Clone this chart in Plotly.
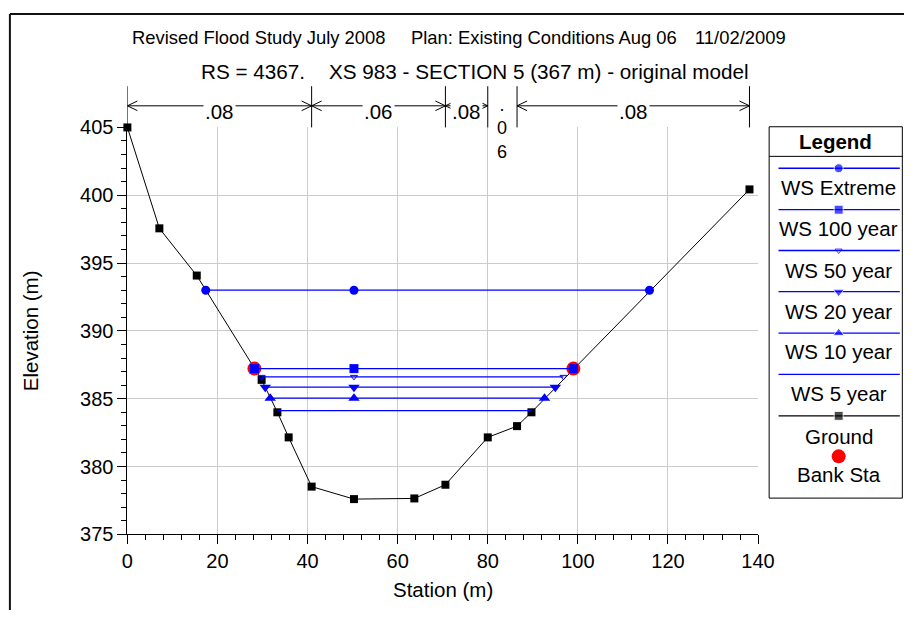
import plotly.graph_objects as go

# ---- cross-section data -------------------------------------------------
ground_sta = [0.0, 7.1, 15.4, 29.8, 33.3, 35.8, 40.9, 50.3, 63.7, 70.6, 80.0, 86.5, 89.7, 138.1]
ground_elev = [405.0, 397.56, 394.08, 386.39, 384.0, 382.15, 378.52, 377.6, 377.65, 378.66,
               382.15, 382.98, 384.0, 400.43]

bank_sta = [28.2, 99.0]
bank_elev = [387.22, 387.22]

ws_names = ["WS Extreme", "WS 100 year", "WS 50 year", "WS 20 year", "WS 10 year", "WS 5 year"]
ws_elev = [393.0, 387.22, 386.61, 385.85, 385.04, 384.12]
ws_left = [17.4, 28.2, 29.8, 30.6, 31.7, 33.3]
ws_right = [115.9, 99.0, 96.8, 95.0, 92.6, 89.65]
ws_mid_sta = 50.3

# Manning's n regions along the section
n_sta = [0.0, 40.9, 70.6, 80.0, 86.5, 138.1]
n_vals = [".08", ".06", ".08", ".06", ".08"]

x_ticks = [0, 20, 40, 60, 80, 100, 120, 140]
y_ticks = [375, 380, 385, 390, 395, 400, 405]

title_1 = ["Revised Flood Study July 2008", "Plan: Existing Conditions Aug 06", "11/02/2009"]
title_2 = ["RS = 4367.", "XS 983 - SECTION 5 (367 m) - original model"]

# ---- styling --------------------------------------------------------------
W, H = 921, 621
X0, X1, Y0, Y1 = 124.5, 771.3, 120.7, 542.6   # plot frame in page pixels
FONT = "Liberation Sans, Arial, sans-serif"
BLUE, BLACK, RED = "#0000ff", "#000000", "#ff0000"

ws_style = [
    dict(symbol="circle", size=9),
    dict(symbol="square", size=9),
    dict(symbol="triangle-down-open", size=6),
    dict(symbol="triangle-down", size=10),
    dict(symbol="triangle-up", size=10),
    None,
]

fig = go.Figure()

# ground profile
fig.add_trace(go.Scatter(x=ground_sta, y=ground_elev, mode="lines+markers",
                         line=dict(color=BLACK, width=1),
                         marker=dict(symbol="square", size=8, color=BLACK),
                         cliponaxis=False, name="Ground", showlegend=False))
# bank stations
fig.add_trace(go.Scatter(x=bank_sta, y=bank_elev, mode="markers",
                         marker=dict(symbol="circle", size=14, color=RED),
                         cliponaxis=False, name="Bank Sta", showlegend=False))
# water surfaces, smallest event first so larger ones sit on top
for i in reversed(range(len(ws_names))):
    st = ws_style[i]
    if st is None:
        fig.add_trace(go.Scatter(x=[ws_left[i], ws_right[i]], y=[ws_elev[i]] * 2, mode="lines",
                                 line=dict(color=BLUE, width=1.3), name=ws_names[i],
                                 showlegend=False))
    else:
        mk = dict(symbol=st["symbol"], size=st["size"], color=BLUE)
        if st["symbol"].endswith("open"):
            mk["line"] = dict(color=BLUE, width=1)
        fig.add_trace(go.Scatter(x=[ws_left[i], ws_mid_sta, ws_right[i]], y=[ws_elev[i]] * 3,
                                 mode="lines+markers", line=dict(color=BLUE, width=1.3),
                                 marker=mk, cliponaxis=False, name=ws_names[i],
                                 showlegend=False))

# ---- legend panel (drawn on a full-page pixel axis) ------------------------
LX0, LX1, LY0, LY1 = 782.7, 919.3, 120.0, 505.0
LS0, LS1, LMID = 792.3, 916.7, 854.0
leg_line_y = [163.0, 206.0, 248.3, 291.0, 334.0, 376.7, 419.7]
leg_text_y = [182.7, 226.0, 269.0, 312.0, 353.0, 397.0, 440.7]
leg_names = ws_names + ["Ground"]
leg_styles = ws_style + [dict(symbol="square", size=9)]
leg_colors = [BLUE] * 6 + [BLACK]

annotations = []
shapes = []

for name, ly, ty, st, col in zip(leg_names, leg_line_y, leg_text_y, leg_styles, leg_colors):
    if st is None:
        fig.add_trace(go.Scatter(x=[LS0, LS1], y=[ly, ly], mode="lines",
                                 line=dict(color=col, width=1.3), xaxis="x2", yaxis="y2",
                                 showlegend=False, hoverinfo="skip"))
    else:
        mk = dict(symbol=st["symbol"], size=[0, st["size"], 0], color=col)
        if st["symbol"].endswith("open"):
            mk["line"] = dict(color=col, width=1)
        fig.add_trace(go.Scatter(x=[LS0, LMID, LS1], y=[ly, ly, ly], mode="lines+markers",
                                 line=dict(color=col, width=1.3), marker=mk,
                                 xaxis="x2", yaxis="y2", showlegend=False, hoverinfo="skip"))
    annotations.append(dict(text=name, x=LMID, y=ty, xref="x2", yref="y2",
                            showarrow=False, xanchor="center", yanchor="middle",
                            font=dict(family=FONT, size=20.5, color=BLACK)))

fig.add_trace(go.Scatter(x=[LMID], y=[461.7], mode="markers",
                         marker=dict(symbol="circle", size=14, color=RED),
                         xaxis="x2", yaxis="y2", showlegend=False, hoverinfo="skip"))
annotations.append(dict(text="Bank Sta", x=LMID, y=481.0, xref="x2", yref="y2",
                        showarrow=False, xanchor="center", yanchor="middle",
                        font=dict(family=FONT, size=20.5, color=BLACK)))
annotations.append(dict(text="<b>Legend</b>", x=(LX0 + LX1) / 2, y=135.0, xref="x2", yref="y2",
                        showarrow=False, xanchor="center", yanchor="middle",
                        font=dict(family=FONT, size=20.5, color=BLACK)))
shapes.append(dict(type="rect", xref="x2", yref="y2", x0=LX0, x1=LX1, y0=LY0, y1=LY1,
                   line=dict(color=BLACK, width=1), layer="above"))
shapes.append(dict(type="line", xref="x2", yref="y2", x0=LX0, x1=LX1, y0=150.7, y1=150.7,
                   line=dict(color=BLACK, width=1), layer="above"))

# ---- page frame (left and top edges fall inside the page) ------------------
shapes.append(dict(type="line", xref="x2", yref="y2", x0=4, x1=4, y0=3, y1=H,
                   line=dict(color="#111111", width=2), layer="above"))
shapes.append(dict(type="line", xref="x2", yref="y2", x0=4, x1=W, y0=3, y1=3,
                   line=dict(color="#111111", width=2), layer="above"))

# ---- titles -----------------------------------------------------------------
t1f = dict(family=FONT, size=18.4, color=BLACK)
annotations.append(dict(text=title_1[0], x=126.7, y=27, xref="x2", yref="y2", showarrow=False,
                        xanchor="left", yanchor="middle", font=t1f))
annotations.append(dict(text=title_1[1], x=690, y=27, xref="x2", yref="y2", showarrow=False,
                        xanchor="right", yanchor="middle", font=t1f))
annotations.append(dict(text=title_1[2], x=802, y=27, xref="x2", yref="y2", showarrow=False,
                        xanchor="right", yanchor="middle", font=t1f))
t2f = dict(family=FONT, size=20.7, color=BLACK)
annotations.append(dict(text=title_2[0], x=198, y=63, xref="x2", yref="y2", showarrow=False,
                        xanchor="left", yanchor="middle", font=t2f))
annotations.append(dict(text=title_2[1], x=329, y=63, xref="x2", yref="y2", showarrow=False,
                        xanchor="left", yanchor="middle", font=t2f))

# axis titles
annotations.append(dict(text="Station (m)", x=(X0 + X1) / 2, y=600, xref="x2", yref="y2",
                        showarrow=False, xanchor="center", yanchor="middle",
                        font=dict(family=FONT, size=20.5, color=BLACK)))
annotations.append(dict(text="Elevation (m)", x=26, y=(Y0 + Y1) / 2, xref="x2", yref="y2",
                        showarrow=False, xanchor="center", yanchor="middle", textangle=-90,
                        font=dict(family=FONT, size=20.5, color=BLACK)))

# ---- Manning's n bands above the plot ---------------------------------------
N_TOP, N_ARROW, N_TEXT = 78.0, 98.3, 104.5
for s in n_sta:
    shapes.append(dict(type="line", xref="x", yref="y2", x0=s, x1=s, y0=N_TOP, y1=Y0,
                       line=dict(color=BLACK, width=1), layer="above"))
nf = dict(family=FONT, size=20.5, color=BLACK)
for a, b, v in zip(n_sta[:-1], n_sta[1:], n_vals):
    mid = (a + b) / 2
    if b - a >= 8:
        shapes.append(dict(type="line", xref="x", yref="y2", x0=a, x1=b, y0=N_ARROW, y1=N_ARROW,
                           line=dict(color=BLACK, width=1), layer="above"))
        shapes.append(dict(type="path", xref="x", yref="y2", xsizemode="pixel", xanchor=a,
                           path=f"M 10,{N_ARROW - 5} L 0,{N_ARROW} L 10,{N_ARROW + 5}",
                           line=dict(color=BLACK, width=1), layer="above"))
        shapes.append(dict(type="path", xref="x", yref="y2", xsizemode="pixel", xanchor=b,
                           path=f"M -10,{N_ARROW - 5} L 0,{N_ARROW} L -10,{N_ARROW + 5}",
                           line=dict(color=BLACK, width=1), layer="above"))
        annotations.append(dict(text=v, x=mid, y=N_TEXT, xref="x", yref="y2", showarrow=False,
                                xanchor="center", yanchor="middle", bgcolor="white",
                                borderpad=1, font=nf))
    else:
        # too narrow: write the value one character per line
        annotations.append(dict(text="<br>".join(v), x=mid, y=122, xref="x", yref="y2",
                                showarrow=False, xanchor="center", yanchor="middle",
                                font=dict(family=FONT, size=18, color=BLACK)))

axis_common = dict(showline=True, linecolor=BLACK, linewidth=1, ticks="outside", ticklen=9,
                   tickcolor=BLACK, tickwidth=1, showgrid=True, gridcolor="#cccccc", gridwidth=1,
                   zeroline=False, tickfont=dict(family=FONT, size=20, color=BLACK))

fig.update_layout(
    width=W, height=H, margin=dict(l=0, r=0, t=0, b=0), autosize=False,
    paper_bgcolor="white", plot_bgcolor="rgba(0,0,0,0)", showlegend=False,
    xaxis=dict(domain=[X0 / W, X1 / W], range=[0, 140], tickvals=x_ticks, anchor="y",
               minor=dict(dtick=4, tick0=0, ticks="outside", ticklen=5, tickcolor=BLACK,
                          showgrid=False),
               **axis_common),
    yaxis=dict(domain=[1 - Y1 / H, 1 - Y0 / H], range=[375, 405], tickvals=y_ticks, anchor="x",
               minor=dict(dtick=1, tick0=375, ticks="outside", ticklen=5, tickcolor=BLACK,
                          showgrid=False),
               **axis_common),
    xaxis2=dict(domain=[0, 1], range=[0, W], visible=False, anchor="y2", fixedrange=True),
    yaxis2=dict(domain=[0, 1], range=[H, 0], visible=False, anchor="x2", fixedrange=True),
    annotations=annotations, shapes=shapes,
)

fig.write_html("out.html")
